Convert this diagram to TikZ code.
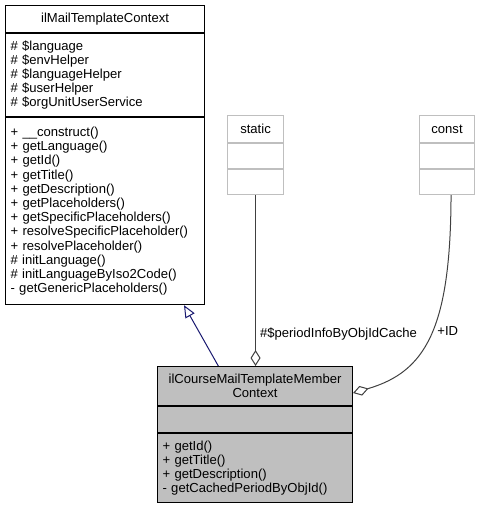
\documentclass[tikz,border=0pt]{standalone}
\usepackage{fontspec}
\setmainfont{Liberation Sans}
\usetikzlibrary{arrows, positioning, arrows.meta}
\definecolor{edgegray}{HTML}{404040}
\definecolor{boxgray}{HTML}{BFBFBF}
\definecolor{midnightblue}{HTML}{191970}

\begin{document}
\begin{tikzpicture}[x=0.75pt, y=-0.75pt, node distance=0pt,
    font=\fontsize{9.8pt}{10.65pt}\selectfont,
    part/.style={draw=black, line width=0.8pt, fill=white, inner xsep=3.75pt, inner ysep=0pt},
    faint/.style={part, draw=boxgray},
    edge/.style={draw=edgegray, line width=0.75pt}]
    \useasboundingbox (0,0) rectangle (480,507);

    % base class
    \node [part, anchor=north west, text width=141.75pt, minimum height=20.25pt, align=center] (mailtitle) at (5,5) {ilMailTemplateContext};
    \node [part, below=of mailtitle, text width=141.75pt, minimum height=62.25pt, align=left] (mailattr) {\# \$language\\\# \$envHelper\\\# \$languageHelper\\\# \$userHelper\\\# \$orgUnitUserService};
    \node [part, below=of mailattr, text width=141.75pt, minimum height=140.25pt, align=left] (mailops) {+ \_\_construct()\\+ getLanguage()\\+ getId()\\+ getTitle()\\+ getDescription()\\+ getPlaceholders()\\+ getSpecificPlaceholders()\\+ resolveSpecificPlaceholder()\\+ resolvePlaceholder()\\\# initLanguage()\\\# initLanguageByIso2Code()\\- getGenericPlaceholders()};

    % static and const
    \node [faint, anchor=north west, text width=34.5pt, minimum height=20.25pt, align=center] (stattitle) at (227,115) {static};
    \node [faint, below=of stattitle, text width=34.5pt, minimum height=18.75pt] (statattr) {};
    \node [faint, below=of statattr, text width=34.5pt, minimum height=18.75pt] (statops) {};
    \node [faint, anchor=north west, text width=33.75pt, minimum height=20.25pt, align=center] (consttitle) at (419,115) {const};
    \node [faint, below=of consttitle, text width=33.75pt, minimum height=18.75pt] (constattr) {};
    \node [faint, below=of constattr, text width=33.75pt, minimum height=18.75pt] (constops) {};

    % derived class
    \node [part, fill=boxgray, anchor=north west, text width=138.75pt, minimum height=29.25pt, align=center] (membertitle) at (157,366) {ilCourseMailTemplateMember\\Context};
    \node [part, fill=boxgray, below=of membertitle, text width=138.75pt, minimum height=19.5pt] (memberattr) {};
    \node [part, fill=boxgray, below=of memberattr, text width=138.75pt, minimum height=51.75pt, align=left] (memberops) {+ getId()\\+ getTitle()\\+ getDescription()\\- getCachedPeriodByObjId()};

    \draw[line width=0.75pt, midnightblue, -{Triangle[open, fill=white, length=9.2pt, width=7.8pt]}] ([xshift=46pt]membertitle.north west) -- ([xshift=134.25pt]mailops.south west);
    \draw[edge, -{Diamond[open, fill=white, length=12pt, width=7.5pt]}] (statops.south) -- node[pos=0.81, right, inner xsep=3pt] (cachelbl) {\#\$periodInfoByObjIdCache} (statops.south |- membertitle.north);
    \draw[edge, -{Diamond[open, fill=white, length=12pt, width=7.5pt]}] ([xshift=3pt]constops.south) .. controls (450.7,330) and (425,372) .. node[pos=0.47, right, inner xsep=4pt] (idlbl) {+ID} ([yshift=-20.25pt]membertitle.north east);
\end{tikzpicture}
\end{document}
